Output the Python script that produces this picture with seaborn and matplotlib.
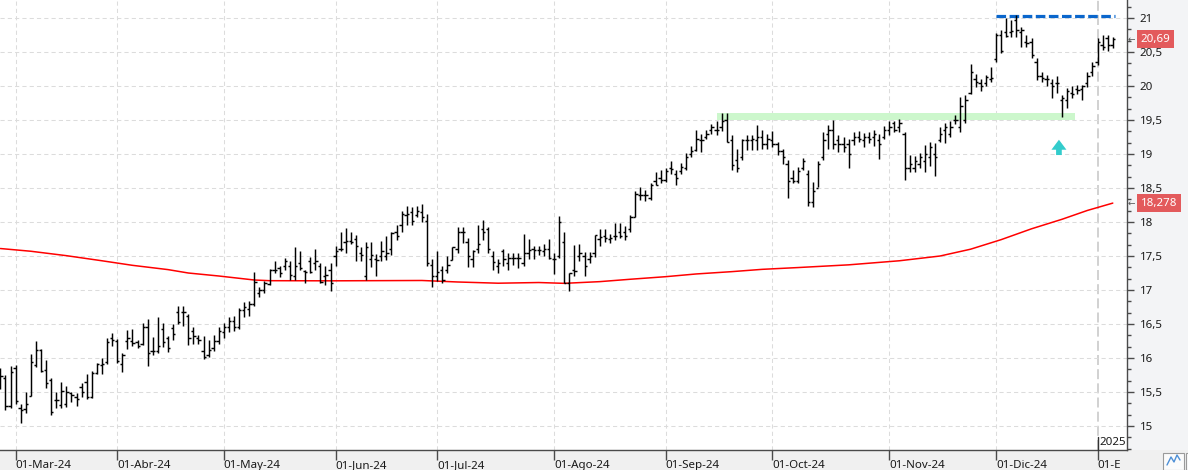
import numpy as np
import pandas as pd
import matplotlib
matplotlib.use("Agg")
import matplotlib.pyplot as plt
import matplotlib.transforms as mtransforms
from matplotlib.ticker import MultipleLocator, FuncFormatter
from matplotlib.patches import Rectangle
from matplotlib.lines import Line2D
import seaborn as sns

# ---------------- data ----------------
start_date = "2024-02-27"
end_date = "2025-01-07"
market_holidays = ["2024-03-29", "2024-04-01", "2024-05-01",
                   "2024-12-25", "2024-12-26", "2025-01-01"]

opens = [15.80, 15.70, 15.30, 15.85, 15.26, 15.25, 15.44, 15.89, 16.12, 15.83,
         15.68, 15.38, 15.31, 15.33, 15.48, 15.42, 15.58, 15.64, 15.43, 15.78,
         15.90, 15.94, 16.29, 16.25, 15.91, 16.25, 16.25, 16.23, 16.20, 16.45,
         16.10, 16.10, 16.42, 16.30, 16.44, 16.68, 16.68, 16.62, 16.40, 16.30,
         16.10, 16.05, 16.15, 16.25, 16.38, 16.45, 16.55, 16.45, 16.70, 16.72,
         16.80, 16.95, 17.00, 17.09, 17.30, 17.33, 17.35, 17.36, 17.20, 17.40,
         17.28, 17.43, 17.40, 17.35, 17.20, 17.30, 17.50, 17.60, 17.70, 17.72,
         17.75, 17.55, 17.20, 17.45, 17.45, 17.50, 17.50, 17.60, 17.85, 17.96,
         18.10, 18.15, 18.10, 18.15, 18.02, 17.37, 17.20, 17.30, 17.30, 17.44,
         17.60, 17.85, 17.70, 17.45, 17.60, 17.90, 17.90, 17.50, 17.35, 17.57,
         17.40, 17.47, 17.47, 17.40, 17.55, 17.60, 17.59, 17.58, 17.60, 17.45,
         17.50, 17.70, 17.10, 17.30, 17.50, 17.50, 17.45, 17.55, 17.75, 17.80,
         17.75, 17.80, 17.85, 17.85, 17.90, 18.08, 18.40, 18.40, 18.35, 18.60,
         18.65, 18.62, 18.80, 18.70, 18.75, 18.80, 19.00, 19.06, 19.20, 19.25,
         19.35, 19.35, 19.40, 19.50, 19.20, 18.91, 18.95, 19.20, 19.20, 19.20,
         19.25, 19.15, 19.20, 19.15, 19.05, 18.85, 18.65, 18.60, 18.80, 18.70,
         18.30, 18.50, 18.95, 19.30, 19.35, 19.20, 19.15, 19.15, 19.20, 19.25,
         19.20, 19.25, 19.25, 19.20, 19.25, 19.35, 19.45, 19.40, 19.30, 18.80,
         18.80, 18.85, 18.90, 18.95, 19.00, 19.20, 19.35, 19.30, 19.50, 19.40,
         19.50, 19.90, 20.10, 20.05, 20.05, 20.10, 20.39, 20.75, 20.80, 20.80,
         20.97, 20.80, 20.65, 20.64, 20.35, 20.15, 20.10, 20.05, 20.05, 19.80,
         19.80, 19.90, 19.95, 19.95, 20.05, 20.20, 20.35, 20.60, 20.70, 20.60]

highs = [15.85, 15.75, 15.88, 15.90, 15.32, 15.50, 16.06, 16.25, 16.13, 15.97,
         15.70, 15.50, 15.64, 15.59, 15.50, 15.48, 15.63, 15.76, 15.81, 15.92,
         16.00, 16.29, 16.37, 16.28, 16.07, 16.41, 16.42, 16.27, 16.51, 16.58,
         16.31, 16.60, 16.52, 16.32, 16.50, 16.76, 16.76, 16.65, 16.45, 16.34,
         16.32, 16.27, 16.34, 16.45, 16.52, 16.60, 16.62, 16.74, 16.82, 16.84,
         17.27, 17.05, 17.13, 17.31, 17.42, 17.35, 17.47, 17.42, 17.63, 17.58,
         17.30, 17.48, 17.61, 17.39, 17.36, 17.39, 17.65, 17.86, 17.91, 17.86,
         17.81, 17.63, 17.70, 17.70, 17.53, 17.72, 17.79, 17.86, 17.96, 18.16,
         18.23, 18.22, 18.23, 18.27, 18.12, 17.46, 17.57, 17.35, 17.50, 17.63,
         17.93, 17.93, 17.76, 17.59, 17.95, 18.03, 17.93, 17.57, 17.46, 17.60,
         17.55, 17.54, 17.54, 17.82, 17.75, 17.64, 17.65, 17.67, 17.75, 17.55,
         18.09, 17.86, 17.25, 17.66, 17.68, 17.56, 17.56, 17.81, 17.90, 17.90,
         17.83, 17.98, 17.99, 17.94, 18.10, 18.46, 18.51, 18.47, 18.58, 18.73,
         18.77, 18.79, 18.90, 18.76, 18.87, 19.02, 19.12, 19.35, 19.30, 19.36,
         19.44, 19.49, 19.61, 19.61, 19.28, 19.08, 19.22, 19.28, 19.28, 19.43,
         19.36, 19.30, 19.34, 19.18, 19.08, 18.91, 18.76, 18.81, 18.94, 18.77,
         18.59, 18.89, 19.33, 19.43, 19.50, 19.28, 19.25, 19.22, 19.33, 19.34,
         19.31, 19.33, 19.36, 19.30, 19.41, 19.49, 19.48, 19.51, 19.33, 18.99,
         18.97, 19.01, 19.13, 19.17, 19.16, 19.39, 19.45, 19.48, 19.57, 19.84,
         19.87, 20.33, 20.18, 20.11, 20.16, 20.28, 20.78, 20.83, 21.00, 20.97,
         21.04, 20.87, 20.75, 20.70, 20.41, 20.21, 20.16, 20.11, 20.15, 19.87,
         19.97, 20.00, 20.02, 20.02, 20.21, 20.36, 20.71, 20.75, 20.75, 20.72]

lows = [15.55, 15.23, 15.26, 15.33, 15.05, 15.19, 15.44, 15.87, 15.80, 15.56,
        15.16, 15.27, 15.27, 15.28, 15.36, 15.30, 15.42, 15.39, 15.41, 15.77,
        15.76, 15.91, 16.18, 15.92, 15.80, 16.13, 16.18, 16.14, 16.19, 15.88,
        16.04, 16.08, 16.16, 16.09, 16.26, 16.50, 16.47, 16.19, 16.21, 16.20,
        15.98, 16.02, 16.10, 16.20, 16.30, 16.38, 16.40, 16.42, 16.60, 16.62,
        16.76, 16.89, 16.96, 17.07, 17.25, 17.19, 17.30, 17.15, 17.15, 17.29,
        17.10, 17.25, 17.30, 17.11, 17.08, 16.98, 17.36, 17.57, 17.54, 17.67,
        17.43, 17.43, 17.15, 17.34, 17.21, 17.42, 17.44, 17.52, 17.74, 17.85,
        17.96, 17.96, 18.07, 18.00, 17.36, 17.05, 17.13, 17.11, 17.25, 17.44,
        17.54, 17.69, 17.34, 17.34, 17.54, 17.74, 17.54, 17.29, 17.25, 17.36,
        17.29, 17.37, 17.32, 17.36, 17.45, 17.45, 17.52, 17.50, 17.45, 17.23,
        17.47, 17.10, 16.98, 17.21, 17.42, 17.21, 17.40, 17.49, 17.64, 17.70,
        17.69, 17.74, 17.77, 17.74, 17.86, 18.07, 18.32, 18.31, 18.33, 18.54,
        18.58, 18.59, 18.71, 18.54, 18.71, 18.76, 18.95, 19.05, 19.03, 19.22,
        19.30, 19.28, 19.34, 19.17, 18.76, 18.73, 18.91, 19.06, 19.06, 19.06,
        19.08, 19.08, 19.11, 18.99, 18.85, 18.36, 18.57, 18.57, 18.76, 18.23,
        18.22, 18.51, 18.91, 19.08, 19.08, 19.03, 19.03, 18.79, 19.13, 19.17,
        19.11, 19.16, 19.12, 18.92, 19.22, 19.28, 19.33, 19.33, 18.62, 18.74,
        18.74, 18.79, 18.74, 18.82, 18.67, 19.17, 19.16, 19.25, 19.44, 19.33,
        19.46, 19.88, 19.98, 19.93, 20.00, 20.06, 20.36, 20.48, 20.72, 20.72,
        20.72, 20.58, 20.58, 20.41, 20.09, 20.06, 20.00, 19.83, 19.89, 19.55,
        19.67, 19.83, 19.88, 19.80, 19.99, 20.15, 20.31, 20.53, 20.52, 20.56]

closes = [15.74, 15.29, 15.80, 15.37, 15.24, 15.32, 15.94, 16.12, 15.81, 15.63,
          15.20, 15.38, 15.52, 15.50, 15.45, 15.40, 15.50, 15.42, 15.78, 15.91,
          15.91, 16.24, 16.26, 15.96, 16.05, 16.29, 16.22, 16.17, 16.45, 16.07,
          16.10, 16.17, 16.24, 16.14, 16.35, 16.53, 16.68, 16.29, 16.32, 16.27,
          16.02, 16.12, 16.25, 16.40, 16.45, 16.55, 16.45, 16.70, 16.75, 16.80,
          17.12, 17.00, 17.10, 17.30, 17.30, 17.25, 17.43, 17.22, 17.36, 17.32,
          17.27, 17.27, 17.42, 17.12, 17.22, 17.10, 17.58, 17.61, 17.72, 17.71,
          17.65, 17.52, 17.63, 17.52, 17.44, 17.57, 17.54, 17.84, 17.79, 18.12,
          18.12, 18.01, 18.16, 18.08, 17.40, 17.20, 17.27, 17.15, 17.37, 17.63,
          17.85, 17.85, 17.50, 17.57, 17.67, 17.86, 17.60, 17.41, 17.40, 17.45,
          17.47, 17.47, 17.47, 17.54, 17.59, 17.59, 17.59, 17.60, 17.47, 17.46,
          18.00, 17.11, 17.25, 17.28, 17.54, 17.36, 17.50, 17.81, 17.78, 17.77,
          17.76, 17.80, 17.80, 17.80, 18.08, 18.41, 18.40, 18.39, 18.54, 18.55,
          18.62, 18.75, 18.78, 18.65, 18.81, 18.96, 19.05, 19.22, 19.20, 19.30,
          19.40, 19.36, 19.48, 19.18, 18.84, 18.80, 19.20, 19.21, 19.22, 19.25,
          19.15, 19.22, 19.15, 19.05, 18.95, 18.60, 18.60, 18.75, 18.90, 18.30,
          18.45, 18.85, 19.20, 19.35, 19.15, 19.15, 19.10, 19.00, 19.25, 19.22,
          19.25, 19.22, 19.30, 19.15, 19.35, 19.40, 19.35, 19.45, 18.80, 18.85,
          18.90, 18.95, 19.00, 19.10, 18.95, 19.30, 19.40, 19.40, 19.50, 19.70,
          19.80, 20.20, 20.06, 20.00, 20.13, 20.12, 20.75, 20.51, 20.74, 20.81,
          20.82, 20.82, 20.63, 20.45, 20.15, 20.12, 20.10, 20.00, 20.05, 19.82,
          19.92, 19.88, 19.94, 20.00, 20.15, 20.30, 20.64, 20.57, 20.60, 20.69]

month_labels = ["01-Mar-24", "01-Abr-24", "01-May-24", "01-Jun-24", "01-Jul-24",
                "01-Ago-24", "01-Sep-24", "01-Oct-24", "01-Nov-24", "01-Dic-24", "01-E"]
year_label = "2025"

# moving average (red line) read at sample bars
ma_index = [0, 6, 13, 20, 26, 33, 37, 43, 50, 53, 65, 83, 90, 98, 106, 111,
            118, 124, 131, 137, 144, 150, 157, 167, 177, 185, 191, 197, 203,
            209, 214, 219]
ma_values = [17.61, 17.57, 17.505, 17.43, 17.363, 17.30, 17.25, 17.206, 17.147,
             17.137, 17.135, 17.14, 17.118, 17.10, 17.11, 17.098, 17.123, 17.158,
             17.196, 17.236, 17.27, 17.304, 17.33, 17.37, 17.43, 17.50, 17.60,
             17.74, 17.90, 18.04, 18.17, 18.278]

support_band = (19.50, 19.61)
support_span = (141.0, 211.5)
resistance_level = 21.035
resistance_span = (196.0, 219.4)
arrow_bar = 208.4
arrow_range = (18.985, 19.21)

# ---------------- style ----------------
sns.set_theme(style="white")
plt.rcParams['font.family'] = ['Noto Sans', 'DejaVu Sans']
FS = 8.3
W, H = 1188, 470

dates = pd.bdate_range(start_date, end_date)
dates = dates[~dates.isin(pd.to_datetime(market_holidays))]
n = len(closes)
dates = dates[:n]
idx = np.arange(n)
df = pd.DataFrame({"i": idx, "open": opens, "high": highs, "low": lows, "close": closes})

fig = plt.figure(figsize=(W / 100, H / 100), dpi=100, facecolor='#f0f0f0')
fig.add_artist(Rectangle((1127 / W, 20 / H), 1 - 1127 / W, 450 / H,
                         transform=fig.transFigure, fc='#f3f4f6', ec='none', zorder=0))
ax = fig.add_axes([0, 20 / H, 1127 / W, 450 / H])
ax.set_facecolor('white')
ax.set_xlim(-0.07, 221.8)
ax.set_ylim(14.647, 21.265)
ax.set_axisbelow(True)

# month ticks
month_starts = [i for i in range(1, n) if dates[i].month != dates[i - 1].month]
grid_kw = dict(color='#dcdcdc', lw=0.75, ls=(0, (4, 3)), zorder=0.5)
for m in month_starts[:-1]:
    ax.axvline(m, **grid_kw)
jan_idx = month_starts[-1]
ax.axvline(jan_idx, color='#cacaca', lw=1.2, ls=(0, (6, 2.5)), zorder=0.5)
ax.yaxis.grid(True, which='major', **{k: v for k, v in grid_kw.items() if k != 'zorder'})

# support band & resistance
ax.fill_between(support_span, support_band[0], support_band[1], color='#ccf7cc', lw=0, zorder=1)
ax.hlines(resistance_level, *resistance_span, colors='#0a66cc', lw=2.3,
          linestyles=[(0, (3.0, 1.1))], zorder=3)

# moving average
sns.lineplot(x=ma_index, y=ma_values, ax=ax, color='#ff0000', linewidth=1.1,
             legend=False, estimator=None, sort=True, zorder=2)

# OHLC bars
tick = 0.45
ax.vlines(df["i"], df["low"], df["high"], colors='black', lw=1.05, zorder=4)
ax.hlines(df["open"], df["i"] - tick, df["i"], colors='black', lw=1.05, zorder=4)
ax.hlines(df["close"], df["i"], df["i"] + tick, colors='black', lw=1.05, zorder=4)

# arrow
ax.annotate('', xy=(arrow_bar, arrow_range[1]), xytext=(arrow_bar, arrow_range[0]),
            arrowprops=dict(arrowstyle='simple,head_length=0.72,head_width=1.08,tail_width=0.41',
                            color='#33cccc', lw=0, mutation_scale=10, shrinkA=0, shrinkB=0),
            zorder=5)

# axes, ticks
for s in ['left', 'top']:
    ax.spines[s].set_visible(False)
for s in ['right', 'bottom']:
    ax.spines[s].set_color('#4a4a4a')
    ax.spines[s].set_linewidth(1.0)

ax.set_xticks(month_starts)
ax.set_xticklabels(month_labels)
ax.tick_params(axis='x', which='both', bottom=True, top=False, direction='out', length=7,
               width=1, color='#4a4a4a', pad=0.5, labelsize=FS, labelcolor='#1a1a1a')
for lbl in ax.get_xticklabels():
    lbl.set_horizontalalignment('left')

ax.yaxis.tick_right()
ax.yaxis.set_major_locator(MultipleLocator(0.5))
ax.yaxis.set_minor_locator(MultipleLocator(0.5 / 3))
ax.yaxis.set_major_formatter(FuncFormatter(lambda v, p: f"{v:g}".replace('.', ',')))
ax.tick_params(axis='y', which='major', left=False, right=True, labelleft=False, labelright=True,
               direction='out', length=5, width=1, color='#4a4a4a', pad=4,
               labelsize=FS, labelcolor='#1a1a1a')
ax.tick_params(axis='y', which='minor', left=False, right=True, direction='out', length=3,
               width=1, color='#4a4a4a')

# year marker
blend = mtransforms.blended_transform_factory(ax.transData, ax.transAxes)
ax.plot([jan_idx, jan_idx], [0, 13 / 450], transform=blend, color='#333333', lw=1.0,
        clip_on=False, zorder=6)
ax.annotate(year_label, xy=(jan_idx, 0), xycoords=blend, xytext=(1.5, 1.5),
            textcoords='offset points', ha='left', va='bottom', fontsize=FS, color='#1a1a1a')

# right-side value labels
for val, txt in [(closes[-1], f"{closes[-1]:.2f}".replace('.', ',')),
                 (ma_values[-1], f"{ma_values[-1]:.3f}".replace('.', ','))]:
    ax.annotate(txt, xy=(1, val), xycoords=('axes fraction', 'data'), xytext=(10.0, 0),
                textcoords='offset points', ha='left', va='center', color='white', fontsize=FS,
                bbox=dict(boxstyle='square,pad=0.33', fc='#e35a5c', ec='none'),
                annotation_clip=False, zorder=10)
    ax.annotate('←', xy=(1, val), xycoords=('axes fraction', 'data'), xytext=(0.3, 0.3),
                textcoords='offset points', ha='left', va='center', color='#555555', fontsize=6.5,
                family=['DejaVu Sans'], annotation_clip=False, zorder=10)

# small button at bottom-right
fig.add_artist(Rectangle((1163 / W, 0.5 / H), 21 / W, 17 / H, transform=fig.transFigure,
                         fc='#fbfbfb', ec='#9a9a9a', lw=0.8))
fig.add_artist(Line2D(np.array([1167, 1171, 1174, 1177, 1180]) / W,
                      (470 - np.array([465, 457, 462, 455, 460])) / H,
                      transform=fig.transFigure, color='#4d8fd6', lw=1.0))
fig.add_artist(Rectangle((1186 / W, 0.5 / H), 4 / W, 17 / H, transform=fig.transFigure,
                         fc='#fbfbfb', ec='#9a9a9a', lw=0.8))

fig.savefig("out.png", dpi=100, facecolor=fig.get_facecolor())
